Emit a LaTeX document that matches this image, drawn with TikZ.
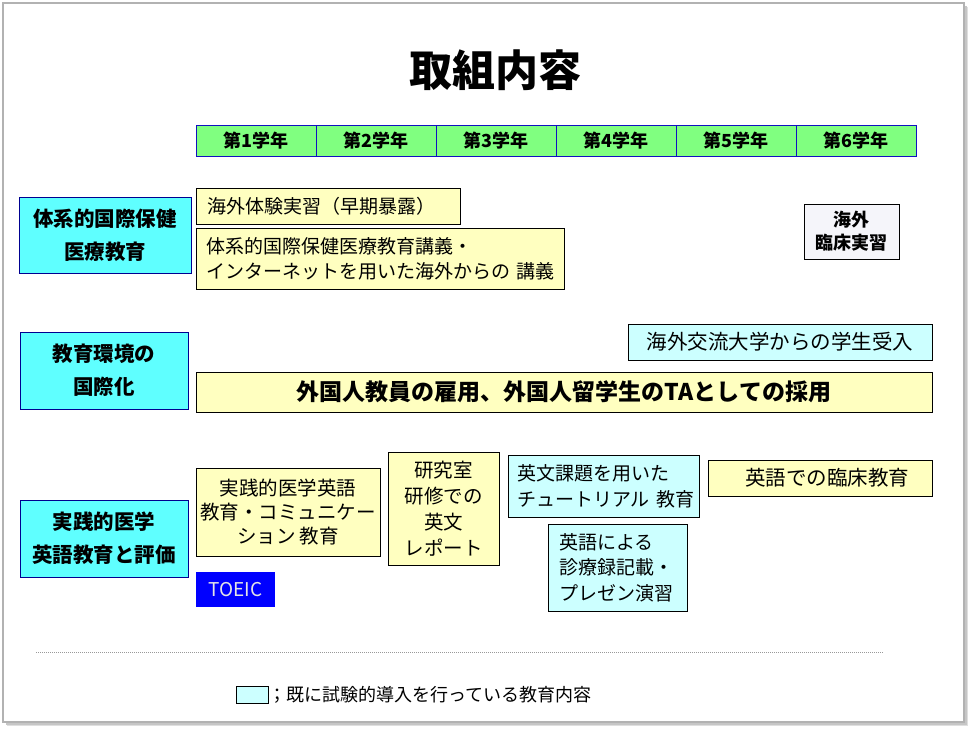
\documentclass[tikz,border=0pt]{standalone}
\usepackage{fontspec}
\newfontfamily\jp{Noto Sans CJK JP}
\definecolor{yel}{HTML}{FFFFC0}
\definecolor{lcyan}{HTML}{CCFFFF}
\definecolor{cat}{HTML}{5FFFFF}
\definecolor{grn}{HTML}{80FF80}
\definecolor{navy}{HTML}{000090}
\definecolor{hdrblue}{HTML}{1010C0}
\definecolor{wbg}{HTML}{F5F5FA}
\tikzset{
  base/.style={inner sep=0pt, font=\jp\fontsize{19}{25}\selectfont, align=center},
  yel/.style={base, draw=black, fill=yel, line width=0.8pt},
  lcy/.style={base, draw=black, fill=lcyan, line width=0.8pt},
  catbox/.style={base, draw=navy, fill=cat, line width=0.9pt, font=\jp\bfseries\fontsize{20.5}{33}\selectfont},
  yearcell/.style={base, draw=hdrblue, fill=grn, line width=1pt, minimum width=120pt, minimum height=31pt, font=\jp\bfseries\fontsize{18}{20}\selectfont},
}
\begin{document}
\begin{tikzpicture}[x=1pt,y=-1pt]
\useasboundingbox (0,0) rectangle (969,729);
% slide frame with shadow
\fill[gray!25] (7,7) rectangle (968,726);
\fill[gray!45] (6,6) rectangle (966.5,724.5);
\draw[gray!60, fill=white, line width=1.2pt] (3,3) rectangle (964,722);

\node[base, font=\jp\bfseries\fontsize{43}{46}\selectfont] (title) at (495,70) {取組内容};

\node[yearcell] (y1) at (256,140.5) {第1学年};
\node[yearcell] (y2) at (376,140.5) {第2学年};
\node[yearcell] (y3) at (496,140.5) {第3学年};
\node[yearcell] (y4) at (616,140.5) {第4学年};
\node[yearcell] (y5) at (736,140.5) {第5学年};
\node[yearcell] (y6) at (856,140.5) {第6学年};

\node[catbox, minimum width=172pt, minimum height=76pt] (cat1) at (105,235) {体系的国際保健\\医療教育};
\node[catbox, minimum width=168pt, minimum height=77pt] (cat2) at (104,370.5) {教育環境の\\国際化};
\node[catbox, minimum width=168pt, minimum height=77pt] (cat3) at (104,538.5) {実践的医学\\英語教育と評価};

\node[yel, minimum width=264pt, minimum height=36pt, text width=242pt, inner xsep=11pt, align=left] (early) at (328,206) {海外体験実習（早期暴露）};
\node[yel, minimum width=368pt, minimum height=61pt, text width=348pt, inner xsep=10pt, align=left] (lect) at (380,258.5) {\mbox{体系的国際保健医療教育講義・}\\\mbox{インターネットを用いた海外からの 講義}};
\node[base, draw=black, fill=wbg, line width=0.8pt, minimum width=95pt, minimum height=55pt, font=\jp\bfseries\fontsize{18}{23}\selectfont] (clin) at (851.5,231.5) {海外\\臨床実習};

\node[lcy, minimum width=304pt, minimum height=36pt, font=\jp\fontsize{20.5}{25}\selectfont] (recv) at (780,342) {海外交流大学からの学生受入};
\node[yel, minimum width=736pt, minimum height=40pt, font=\jp\bfseries\fontsize{23}{26}\selectfont] (hire) at (564,392) {外国人教員の雇用、外国人留学生のTAとしての採用};

\node[yel, minimum width=184pt, minimum height=88pt, font=\jp\fontsize{19.5}{24}\selectfont] (comm) at (288,512) {実践的医学英語\\教育・コミュニケー\\ション 教育};
\node[yel, minimum width=111pt, minimum height=113pt, font=\jp\fontsize{19.5}{26}\selectfont] (rep) at (443.5,508.5) {研究室\\研修での\\英文\\レポート};
\node[lcy, minimum width=191pt, minimum height=62pt, text width=173pt, inner xsep=9pt, align=left, font=\jp\fontsize{19}{26}\selectfont] (tut) at (603.5,486) {\mbox{英文課題を用いた}\\\mbox{チュートリアル 教育}};
\node[yel, minimum width=224pt, minimum height=36pt, font=\jp\fontsize{20.5}{25}\selectfont] (eng) at (820,478) {\hspace*{14pt}英語での臨床教育};
\node[lcy, minimum width=139pt, minimum height=87pt, text width=117pt, inner xsep=11pt, align=left, font=\jp\fontsize{19}{25.5}\selectfont] (pres) at (617.5,567.5) {\mbox{英語による}\\\mbox{診療録記載・}\\\mbox{プレゼン演習}};
\node[base, fill=blue, text=gray!20, minimum width=79pt, minimum height=35pt, font=\jp\fontsize{19}{22}\selectfont] (toeic) at (235.5,589.5) {TOEIC};

\coordinate (dl) at (36,652);
\coordinate (dr) at (884,652);
\draw[gray!80, line width=0.8pt, dash pattern=on 1pt off 1pt] (dl) -- (dr);

\node[lcy, minimum width=32pt, minimum height=17pt] (legbox) at (252,694.5) {};
\node[base, anchor=west, font=\jp\fontsize{18}{20}\selectfont] (legtext) at (legbox.east) {；既に試験的導入を行っている教育内容};
\end{tikzpicture}
\end{document}
